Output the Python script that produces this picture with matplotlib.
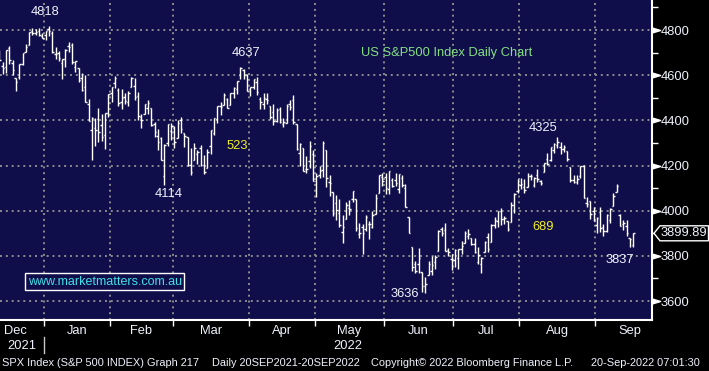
import numpy as np
import pandas as pd
import matplotlib
matplotlib.use('Agg')
import matplotlib.pyplot as plt
from matplotlib import transforms
from matplotlib.collections import LineCollection
from matplotlib.patches import Polygon

plt.rcParams['font.family'] = ['Liberation Sans', 'DejaVu Sans']

# SPX daily bars, 13 Dec 2021 - 19 Sep 2022
holidays = ['2021-12-24', '2022-01-17', '2022-02-21', '2022-04-15',
            '2022-05-30', '2022-06-20', '2022-07-04', '2022-09-05']

opens = [4710, 4642, 4636, 4719, 4652, 4587, 4594, 4650, 4703, 4733, 4795, 4789, 4795, 4775,
         4778, 4804, 4787, 4693, 4697, 4655, 4670, 4728, 4733, 4637, 4633, 4588, 4547, 4471, 4356, 4366, 4408, 4380, 4337, 4431,
         4519, 4566, 4535, 4482, 4505, 4480, 4548, 4553, 4506, 4413, 4429, 4455, 4456, 4385, 4332, 4324, 4155, 4299, 4354,
         4364, 4322, 4401, 4342, 4327, 4202, 4223, 4252, 4279, 4203, 4188, 4288, 4345, 4407, 4462, 4469, 4493, 4469, 4522, 4541, 4602, 4624, 4599,
         4540, 4547, 4572, 4495, 4474, 4494, 4462, 4437, 4398, 4450, 4385, 4390, 4472, 4489, 4385, 4255, 4278, 4186, 4222, 4253,
         4130, 4159, 4181, 4270, 4128, 4081, 4035, 3990, 3904, 3963, 4013, 4052, 4052, 3899, 3927, 3919, 3942, 3929, 3984, 4078, 4151,
         4149, 4095, 4137, 4134, 4097, 4147, 4102, 3974, 3838, 3763, 3764, 3728, 3665, 3715, 3733, 3774, 3821, 3920, 3913, 3825, 3785,
         3781, 3792, 3831, 3858, 3889, 3880, 3851, 3771, 3763, 3819, 3883, 3860, 3935, 3955, 3998, 3965, 3953, 3951, 4026, 4087,
         4113, 4105, 4107, 4154, 4116, 4156, 4133, 4170, 4227, 4225, 4270, 4290, 4280, 4274, 4266, 4195, 4134, 4127, 4153, 4198, 4034, 4041, 4000,
         3936, 3994, 3930, 3909, 3959, 4022, 4084, 3982, 3941, 3932, 3880, 3849]
highs = [4710, 4660, 4712, 4731, 4666, 4587, 4651, 4697, 4740, 4791, 4807, 4805, 4808, 4787,
         4797, 4818.62, 4797, 4725, 4707, 4673, 4714, 4749, 4744, 4665, 4633, 4611, 4602, 4494, 4417, 4411, 4453, 4428, 4432, 4516,
         4547, 4595, 4542, 4540, 4521, 4531, 4590, 4588, 4527, 4426, 4472, 4489, 4456, 4394, 4362, 4325, 4294, 4385, 4388,
         4375, 4401, 4416, 4342, 4327, 4276, 4299, 4268, 4291, 4247, 4271, 4358, 4412, 4465, 4481, 4522, 4501, 4520, 4546, 4576, 4637.30, 4627, 4604,
         4548, 4583, 4593, 4503, 4521, 4520, 4463, 4472, 4453, 4460, 4410, 4471, 4489, 4513, 4385, 4299, 4278, 4240, 4308, 4269,
         4169, 4200, 4308, 4270, 4157, 4081, 4068, 4050, 3981, 4038, 4046, 4089, 4052, 3945, 3943, 3981, 3956, 3999, 4076, 4158, 4169,
         4166, 4178, 4143, 4168, 4164, 4160, 4119, 3974, 3838, 3778, 3837, 3728, 3707, 3779, 3801, 3802, 3913, 3928, 3945, 3836, 3807,
         3829, 3832, 3864, 3910, 3918, 3880, 3880, 3839, 3796, 3864, 3902, 3939, 3974, 3999, 4012, 3975, 3953, 4039, 4078, 4140,
         4144, 4140, 4167, 4161, 4151, 4186, 4137, 4211, 4257, 4280, 4301, 4325.28, 4302, 4292, 4266, 4195, 4159, 4156, 4200, 4203, 4062, 4044, 4016,
         3970, 4018, 3942, 3987, 4010, 4077, 4119, 3986, 3961, 3960, 3880, 3900]
lows = [4667, 4606, 4611, 4651, 4600, 4531, 4583, 4645, 4703, 4733, 4780, 4778, 4775, 4766,
        4758, 4774, 4699, 4671, 4663, 4582, 4638, 4703, 4650, 4614, 4568, 4530, 4480, 4395, 4223, 4287, 4304, 4309, 4273, 4414,
        4483, 4544, 4465, 4451, 4471, 4465, 4547, 4492, 4401, 4364, 4429, 4430, 4373, 4327, 4267, 4223, 4114.65, 4287, 4315,
        4279, 4322, 4345, 4284, 4199, 4158, 4223, 4209, 4200, 4161, 4187, 4251, 4335, 4390, 4424, 4469, 4455, 4466, 4501, 4517, 4582, 4581, 4530,
        4507, 4539, 4514, 4450, 4451, 4474, 4408, 4381, 4392, 4390, 4370, 4390, 4448, 4384, 4267, 4200, 4175, 4168, 4188, 4131,
        4062, 4147, 4148, 4106, 4067, 3975, 3958, 3928, 3859, 3963, 3983, 4040, 3912, 3877, 3810, 3909, 3875, 3925, 3984, 4078, 4110,
        4074, 4074, 4107, 4110, 4080, 4107, 4017, 3901, 3734, 3724, 3722, 3640, 3636.87, 3715, 3717, 3743, 3821, 3889, 3820, 3799, 3738,
        3752, 3742, 3810, 3858, 3876, 3847, 3814, 3765, 3722, 3817, 3818, 3860, 3924, 3927, 3938, 3943, 3910, 3951, 3992, 4080,
        4096, 4079, 4107, 4135, 4107, 4128, 4112, 4170, 4201, 4219, 4256, 4277, 4253, 4261, 4218, 4129, 4124, 4119, 4147, 4057, 4017, 3965, 3954,
        3903, 3906, 3886, 3907, 3944, 4022, 4084, 3933, 3913, 3887, 3837.08, 3838]
closes = [4669, 4634, 4710, 4669, 4621, 4568, 4649, 4697, 4726, 4791, 4786, 4793, 4779, 4766,
          4797, 4794, 4701, 4696, 4677, 4670, 4713, 4726, 4659, 4663, 4577, 4533, 4483, 4398, 4410, 4356, 4350, 4327, 4432, 4516,
          4547, 4589, 4477, 4501, 4484, 4522, 4587, 4504, 4419, 4402, 4471, 4475, 4380, 4349, 4305, 4226, 4289, 4385, 4374,
          4306, 4387, 4363, 4329, 4201, 4171, 4278, 4260, 4204, 4173, 4262, 4358, 4412, 4463, 4461, 4512, 4456, 4520, 4543, 4576, 4632, 4602, 4530,
          4546, 4583, 4525, 4481, 4500, 4488, 4413, 4397, 4447, 4393, 4392, 4462, 4459, 4394, 4272, 4296, 4175, 4184, 4288, 4132,
          4155, 4175, 4300, 4147, 4123, 3991, 4001, 3935, 3930, 4024, 4008, 4089, 3924, 3901, 3901, 3974, 3941, 3979, 4058, 4158, 4132,
          4101, 4177, 4109, 4121, 4161, 4116, 4018, 3901, 3750, 3735, 3790, 3667, 3675, 3765, 3760, 3796, 3912, 3900, 3822, 3819, 3785,
          3825, 3831, 3845, 3903, 3899, 3854, 3819, 3802, 3790, 3863, 3831, 3937, 3960, 3999, 3962, 3967, 3921, 4024, 4072, 4130,
          4119, 4091, 4155, 4152, 4145, 4140, 4122, 4210, 4207, 4280, 4297, 4305, 4274, 4284, 4228, 4138, 4129, 4141, 4199, 4058, 4031, 3986, 3955,
          3967, 3924, 3908, 3980, 4006, 4067, 4110, 3933, 3946, 3901, 3873, 3899.89]

# labelled turning points (date, which price)
peaks = [('2022-01-04', 'high'), ('2022-03-29', 'high'), ('2022-08-16', 'high')]
troughs = [('2022-02-24', 'low'), ('2022-06-17', 'low'), ('2022-09-16', 'low')]

dates = pd.bdate_range('2021-12-13', '2022-09-19')
dates = dates[~dates.isin(pd.to_datetime(holidays))]
x = np.arange(len(dates))
opens, highs, lows, closes = map(np.array, (opens, highs, lows, closes))

navy = '#100e4a'
txt = '#eef2fb'
fs = 9.3

fig = plt.figure(figsize=(7.09, 3.71), dpi=100, facecolor='black')
ax = fig.add_axes([0, 51 / 371, 652 / 709, 320 / 371])
ax.set_facecolor(navy)

# OHLC bars
segs = []
for i in x:
    segs.append([(i, lows[i]), (i, highs[i])])
    segs.append([(i - 0.45, opens[i]), (i, opens[i])])
    segs.append([(i, closes[i]), (i + 0.45, closes[i])])
ax.add_collection(LineCollection(segs, colors='white', linewidths=1.0, zorder=3))

ax.set_xlim(0.17, 197.7)
ax.set_ylim(3516, 4933)

# month boundaries
periods = dates.to_period('M')
starts = np.flatnonzero(periods[1:] != periods[:-1]) + 1
bounds = starts - 0.5
ax.set_xticks(bounds)
ax.set_xticklabels([])
ax.tick_params(axis='x', direction='out', length=4, width=1, color='white')

# month labels centred on the full month
hol = pd.to_datetime(holidays)
xl = ax.get_xlim()
px = 652 / (xl[1] - xl[0])
for p in periods.unique():
    full = pd.bdate_range(p.start_time, p.end_time)
    full = full[~full.isin(hol)]
    first = np.flatnonzero(periods == p)[0]
    before = int((full < dates[first]).sum())
    centre = first - before - 0.5 + len(full) / 2
    if (centre - xl[0]) * px < 14:
        ax.text(0.006, -0.033, p.strftime('%b'), transform=ax.transAxes,
                ha='left', va='center', color=txt, fontsize=fs)
    else:
        ax.text(centre, -0.033, p.strftime('%b'), transform=ax.get_xaxis_transform(),
                ha='center', va='center', color=txt, fontsize=fs)

# year labels
year_break = bounds[0]
ax.text((xl[0] + year_break) / 2, -0.081, '2021', transform=ax.get_xaxis_transform(),
        ha='center', va='center', color=txt, fontsize=fs)
ax.text((year_break + xl[1]) / 2, -0.081, '2022', transform=ax.get_xaxis_transform(),
        ha='center', va='center', color=txt, fontsize=fs)
ax.plot([year_break, year_break], [-0.053, -0.103], color='#c8c8c8', lw=1,
        transform=ax.get_xaxis_transform(), clip_on=False)

# right price axis
ax.yaxis.tick_right()
ax.set_yticks(np.arange(3600, 4801, 200))
ax.set_yticks(np.arange(3700, 4901, 200), minor=True)
ax.tick_params(axis='y', which='major', length=0, pad=6.5, labelsize=fs, labelcolor=txt)
ax.tick_params(axis='y', which='minor', length=4, width=1, color='white', direction='out')
tri = transforms.offset_copy(ax.get_yaxis_transform(), fig=fig, x=4, units='dots')
ax.plot(np.ones(7), np.arange(3600, 4801, 200), ls='none', color='white',
        marker=[(-1, -0.6), (1, 0), (-1, 0.6)], ms=6, transform=tri, clip_on=False)

for s in ['top', 'left']:
    ax.spines[s].set_visible(False)
for s in ['right', 'bottom']:
    ax.spines[s].set_color('white')
    ax.spines[s].set_linewidth(1.5)

ax.grid(True, which='major', color='#8c8c8c', linestyle=(0, (1, 2)), linewidth=1.4)
ax.set_axisbelow(True)

# turning point labels
pts = {}
offs = {'2022-01-04': (-4, 14), '2022-03-29': (6, 14), '2022-08-16': (-14, 9),
        '2022-02-24': (4.5, -9), '2022-06-17': (-20, -1), '2022-09-16': (-10, -12.5)}
for d, kind in peaks + troughs:
    i = dates.get_loc(pd.Timestamp(d))
    v = highs[i] if kind == 'high' else lows[i]
    pts[d] = int(v)
    ax.annotate(str(int(v)), xy=(i, v), xytext=offs[d], textcoords='offset pixels',
                ha='center', va='center', color=txt, fontsize=fs)

# size of the two falls
ax.text(72, 4286, str(pts['2022-03-29'] - pts['2022-02-24']), color='#f0f020',
        ha='center', va='center', fontsize=fs)
ax.text(164.7, 3928, str(pts['2022-08-16'] - pts['2022-06-17']), color='#f0f020',
        ha='center', va='center', fontsize=fs)

ax.text(0.6856, 0.834, 'US S&P500 Index Daily Chart', transform=ax.transAxes,
        ha='center', va='center', color='#82e082', fontsize=9.3)

ax.text(0.161, 0.119, 'www.marketmatters.com.au', transform=ax.transAxes,
        ha='center', va='center', color='#40e0e8', fontsize=9,
        bbox=dict(boxstyle='square,pad=0.2', fc=navy, ec='white', lw=1))

# last price tag
last = closes[-1]
tag = fig.dpi_scale_trans + transforms.ScaledTranslation(1.0, last, ax.get_yaxis_transform())
ax.add_patch(Polygon([(0.02, 0), (0.08, 0.075), (0.565, 0.075), (0.565, -0.075), (0.08, -0.075)],
                     closed=True, fc='black', ec='white', lw=1, transform=tag, clip_on=False))
ax.text(0.085, 0, f'{last:.2f}', transform=tag, ha='left', va='center', color=txt, fontsize=fs)

# footer
fy = 8 / 371
ff = 7.9
fig.text(2 / 709, fy, 'SPX Index (S&P 500 INDEX) Graph 217', color=txt, fontsize=ff, va='center')
fig.text(212 / 709, fy, 'Daily 20SEP2021-20SEP2022', color=txt, fontsize=ff, va='center')
fig.text(371 / 709, fy, 'Copyright\u00a9 2022 Bloomberg Finance L.P.', color=txt, fontsize=ff, va='center')
fig.text(591 / 709, fy, '20-Sep-2022 07:01:30', color=txt, fontsize=ff, va='center')

fig.savefig('out.png', dpi=100, facecolor='black')
